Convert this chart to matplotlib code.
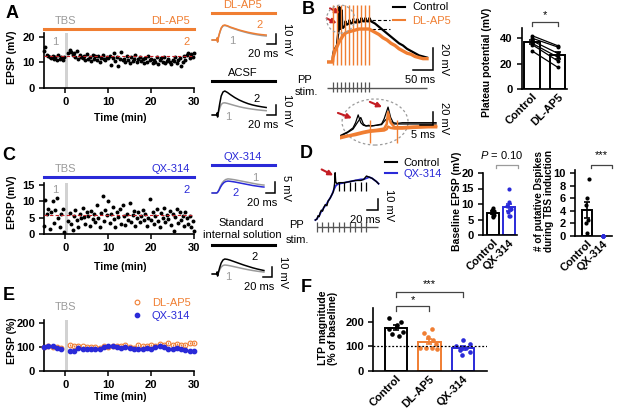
import numpy as np
import matplotlib
matplotlib.use('Agg')
import matplotlib.pyplot as plt
from matplotlib.patches import Ellipse
from matplotlib.lines import Line2D
from matplotlib.transforms import blended_transform_factory

plt.rcParams['font.family'] = ['Liberation Sans', 'DejaVu Sans']
plt.rcParams['mathtext.fontset'] = 'custom'
plt.rcParams['mathtext.it'] = 'Liberation Sans:italic'
plt.rcParams['mathtext.rm'] = 'Liberation Sans'

# ---------------- data ----------------
# A: EPSP amplitude (mV) of one DL-AP5 cell, one sweep every 20 s
a_base = [14.5, 16.0, 13.0, 12.5, 12.0, 11.8, 12.5, 11.5, 12.2, 11.0, 12.8, 11.5, 12.0, 10.8, 12.3]
a_post = [13.5, 15.0, 14.2, 12.8, 13.8, 12.0, 14.5, 11.5, 13.0, 12.2,
          11.8, 12.5, 10.8, 13.2, 11.5, 12.0, 10.5, 12.8, 11.2, 12.4,
          11.0, 12.6, 10.2, 11.8, 12.9, 11.3, 10.8, 12.2, 11.6, 12.5,
          9.0, 11.8, 13.5, 10.6, 12.0, 8.5, 11.2, 14.0, 10.8, 11.5,
          10.2, 12.4, 11.0, 9.8, 12.0, 10.5, 11.4, 13.0, 10.0, 11.2,
          12.2, 10.6, 11.5, 9.6, 11.8, 10.3, 12.5, 10.9, 11.3, 9.9,
          11.1, 10.0, 12.0, 9.4, 10.8, 11.6, 10.2, 12.2, 9.8, 10.7,
          11.4, 10.1, 9.3, 11.0, 10.5, 12.0, 9.6, 10.8, 11.7, 8.5,
          10.3, 12.4, 11.0, 12.8, 13.5, 11.6, 13.2, 12.0, 13.6]
# C: EPSP amplitude (mV) of one QX-314 cell
c_base = [2.5, 10.5, 6.0, 7.5, 1.5, 6.8, 10.2, 3.5, 7.2, 11.0, 5.0, 2.2, 6.2, 7.8, 0.5]
c_post = [4.0, 6.5, 3.2, 1.2, 5.5, 7.4, 4.2, 2.0, 6.0, 4.8,
          8.0, 5.2, 3.0, 6.8, 5.6, 2.5, 7.0, 4.5, 6.2, 3.8,
          9.0, 5.0, 2.2, 6.5, 11.5, 4.0, 7.2, 5.8, 10.2, 3.4,
          6.0, 8.2, 4.6, 2.0, 6.8, 5.2, 7.6, 3.2, 8.8, 5.6,
          2.8, 6.2, 4.4, 9.6, 3.6, 5.8, 7.0, 2.4, 4.8, 6.6,
          3.8, 5.4, 7.2, 4.2, 6.0, 2.6, 5.0, 10.8, 4.4, 6.8,
          3.0, 5.6, 7.6, 4.0, 2.2, 6.4, 5.0, 8.0, 3.6, 5.8,
          4.6, 7.0, 2.8, 6.2, 0.8, 5.2, 7.8, 3.4, 6.6, 4.2,
          5.6, 2.4, 6.8, 4.8, 3.2, 5.4, 2.0, 4.0, 1.0]
t_base = np.linspace(-5, -1 / 3, 15)
t_post = np.linspace(2 / 3, 30, 89)

# example EPSP traces (ms, mV): 1 = baseline, 2 = 30 min after TBS
ap5_t = [-10, 0, 1, 2, 4, 7, 10, 14, 18, 24, 30, 40, 50, 60, 70, 80, 90, 100, 110]
ap5_1 = [0, 0, 2, -2, 3, 7.5, 11.5, 14, 14.5, 13.8, 12.5, 11, 9.5, 8.2, 7, 6, 5.2, 4.5, 4]
ap5_2 = [0, 0, 2, -2, 3, 8, 12, 14.5, 15, 14.2, 13, 11.5, 10, 8.8, 7.7, 6.8, 6, 5.4, 5]
acsf_1 = [0, 0, 2, -2, 3, 7, 10.5, 12, 12.2, 11.6, 10.8, 9.5, 8.3, 7.3, 6.5, 5.8, 5.2, 4.7, 4.3]
acsf_2 = [0, 0, 2, -2, 4, 12, 19, 23, 24, 22.5, 20.5, 17.5, 15, 13, 11.3, 10, 9, 8.2, 7.5]
qx_t = [-10, 0, 2, 5, 8, 12, 16, 20, 25, 30, 40, 50, 60, 70, 80, 90, 100, 105]
qx_1 = [0, 0, 0.3, 1.4, 3.0, 4.5, 5.5, 6.1, 6.4, 6.3, 6.0, 5.6, 5.2, 4.8, 4.4, 4.0, 3.7, 3.6]
qx_2 = [0, 0, 0.3, 1.2, 2.5, 3.8, 4.7, 5.2, 5.4, 5.3, 5.0, 4.6, 4.2, 3.8, 3.4, 3.1, 2.8, 2.7]
std_t = [-10, 0, 1, 2, 4, 7, 10, 14, 18, 24, 30, 40, 50, 60, 70, 80, 90, 100, 105]
std_1 = [0, 0, 2, -2, 1.5, 4.5, 7, 8.5, 9, 8.7, 8.2, 7.2, 6.2, 5.2, 4.3, 3.5, 2.8, 2.2, 1.9]
std_2 = [0, 0, 2, -2, 2, 7, 11, 14, 15, 14.6, 13.8, 12.2, 10.6, 9, 7.6, 6.2, 5, 4, 3.5]

# B: TBS burst responses (ms, mV)
b_stim = [15, 25, 35, 45, 55, 65, 75, 85, 95, 105]
b_t = [0, 14, 15, 17, 20, 23, 25, 26, 28, 30, 31, 32, 34, 35, 36, 37, 38, 40, 45, 46,
       50, 55, 56, 60, 65, 66, 70, 75, 76, 80, 85, 86, 90, 95, 96, 100, 105, 106, 110, 120,
       130, 140, 150, 160, 170, 180, 190, 200, 210, 220, 230, 240, 250]
b_ctrl = [0, 0, 6, 10, 12, 14, 15, 20, 26, 30, 50, 35, 30, 32, 38, 47, 33, 31, 33, 37,
          34, 35, 38, 35, 36, 39, 36, 36, 39, 36, 37, 40, 37, 37, 40, 37, 37, 40, 37, 35,
          32, 29, 26, 23, 20, 17, 15, 12, 10, 8, 6, 5, 4]
b_ap5_t = [0, 14, 15, 18, 20, 25, 30, 35, 40, 45, 50, 60, 70, 80, 90, 100, 105, 110, 120,
           130, 140, 150, 160, 170, 180, 190, 200, 210, 220, 230, 240, 250]
b_ap5 = [0, 0, 4, 8, 10, 14, 18, 21, 24, 26, 27, 28, 29, 30, 30, 30, 30, 29, 27,
         25, 22, 20, 17, 15, 12, 10, 8, 7, 5, 4, 3, 3]
# B inset (ms, mV)
in_stim = [11.5, 22]
in_t_ctrl = [0, 1, 3, 5, 6, 7, 8, 9, 10, 11, 12, 14, 16, 17, 18.5, 19.5, 20.5, 22, 24, 27, 30, 34, 37]
in_ctrl_a = [2, 4, 8, 14, 22, 34, 22, 18, 17, 18, 17, 18, 20, 28, 46, 30, 22, 21, 22, 22, 22, 22, 22]
in_ctrl_b = [1, 3, 7, 12, 18, 24, 30, 20, 17, 17, 17, 18, 19, 24, 30, 24, 20, 20, 20, 20, 20, 20, 20]
in_t_ap5 = [0, 3, 6, 9, 11.5, 14, 17, 18, 18.5, 19.5, 21, 24, 28, 34, 37]
in_ap5_a = [0, 2, 5, 8, 10, 11, 13, 20, 38, 22, 15, 15, 16, 17, 17]
in_ap5_b = [-2, 1, 3, 6, 8, 9, 10, 12, 16, 14, 13, 13, 14, 15, 15]
# B: plateau potential (mV), paired
plateau_ctrl = [42, 40, 38, 36, 35, 30]
plateau_ap5 = [34, 33, 28, 25, 22, 17]

# D: TBS burst, control vs QX-314
d_stim = [0, 10, 20, 30, 40, 50, 60, 70, 80, 90]
d_t = [-3, 0, 2, 4, 6, 8, 10, 12, 15, 18, 20, 24, 28, 30, 32, 33, 34, 36, 40, 50,
       60, 70, 80, 85, 90, 95, 100, 108, 112]
d_ctrl = [0, 1, 4, 3, 7, 9, 8, 11, 14, 13, 17, 20, 24, 26, 33, 43, 35, 33, 34, 34,
          35, 36, 36, 37, 40, 39, 38, 35, 33]
d_qx = [0, 1, 3, 4, 6, 8, 9, 11, 13, 15, 17, 20, 24, 27, 29, 30, 31, 32, 33, 34,
        35, 36, 37, 37, 38, 39, 38, 35, 33]
base_epsp_ctrl = [8.8, 8.2, 7.8, 7.4, 7.0, 6.6, 6.2, 5.8]
base_epsp_qx = [14.8, 10.8, 9.4, 8.3, 7.5, 6.2, 6.0]
dspikes_ctrl = [9, 6, 5, 2.5, 2, 0.5]
dspikes_qx = [0, 0, 0, 0, 0, 0]

# E: normalised EPSP (%), 1-min bins
e_time = [-5, -4, -3, -2, -1] + list(range(1, 31))
e_ap5 = [100, 103, 100, 98, 97, 110, 105, 103, 102, 100, 98, 100, 97, 103, 100,
         105, 103, 105, 108, 100, 97, 108, 103, 105, 108, 105, 112, 110, 115, 108,
         112, 110, 108, 115, 115]
e_qx = [100, 104, 103, 95, 90, 85, 82, 95, 92, 93, 92, 90, 93, 100, 102,
        103, 100, 97, 98, 95, 93, 90, 92, 95, 93, 100, 103, 100, 92, 93,
        95, 90, 88, 85, 83]
e_ap5_sem = 4
e_qx_sem = 6

# F: LTP magnitude (% of baseline)
ltp_groups = ['Control', 'DL-AP5', 'QX-314']
ltp_ctrl = [218, 200, 188, 172, 160, 150, 142]
ltp_ap5 = [170, 155, 138, 125, 112, 95, 92, 95, 88]
ltp_qx = [125, 112, 100, 92, 85, 78, 66]

# ---------------- style ----------------
ORANGE = '#F07E32'
BLUE = '#2A2AD8'
GRAY = '#9B9B9B'
LIGHT = '#D2D2D2'
RED = '#C41E24'

W, H = 617, 409
fig = plt.figure(figsize=(6.17, 4.09), dpi=100)


def box(l, t, r, b):
    return [l / W, 1 - b / H, (r - l) / W, (b - t) / H]


def ftext(x, y, s, **kw):
    kw.setdefault('ha', 'center')
    kw.setdefault('va', 'center')
    kw.setdefault('fontsize', 8)
    fig.text(x / W, 1 - y / H, s, **kw)


def style(ax):
    ax.spines[['top', 'right']].set_visible(False)
    ax.spines[['left', 'bottom']].set_linewidth(1.2)
    ax.tick_params(width=1.1, length=3.5, labelsize=8, pad=3)
    for lab in ax.get_xticklabels() + ax.get_yticklabels():
        lab.set_fontweight('bold')


def trace_axes(l, t, r, b, xlim, ylim):
    ax = fig.add_axes(box(l, t, r, b))
    ax.set_xlim(*xlim)
    ax.set_ylim(*ylim)
    ax.axis('off')
    return ax


def scale_bar(ax, x, y, dx, dy, xlab, ylab):
    ax.plot([x - dx, x, x], [y, y, y + dy], color='k', lw=1.1, clip_on=False,
            solid_joinstyle='miter')
    ax.annotate(xlab, (x, y), xytext=(1.5, -3.5), textcoords='offset points',
                ha='right', va='top', fontsize=8)
    ax.annotate(ylab, (x, y + dy / 2), xytext=(4, 0), textcoords='offset points',
                ha='left', va='center', rotation=270, fontsize=8)


def red_arrow(ax, tail, head):
    ax.annotate('', xy=head, xytext=tail, annotation_clip=False,
                arrowprops=dict(arrowstyle='-|>', color=RED, lw=1.5,
                                mutation_scale=7, shrinkA=0, shrinkB=0))


def time_course(l, t, r, b, ylim, yticks, base, post, drug, col, ybar, ytxt, ynum):
    ax = fig.add_axes(box(l, t, r, b))
    ax.axvspan(-0.2, 0.6, color=LIGHT, lw=0, zorder=0)
    ax.scatter(np.r_[t_base, t_post], np.r_[base, post], s=8, color='k', lw=0,
               zorder=2, clip_on=False)
    ax.axhline(np.mean(base), color=RED, ls=(0, (3, 2)), lw=0.8, zorder=3)
    ax.set_xlim(-5, 30)
    ax.set_ylim(*ylim)
    ax.set_xticks([0, 10, 20, 30])
    ax.set_yticks(yticks)
    style(ax)
    fy = lambda y: (b - y) / (b - t)
    tr = blended_transform_factory(ax.transData, ax.transAxes)
    ax.plot([-5, 30], [fy(ybar)] * 2, color=col, lw=2.2, transform=tr, clip_on=False)
    ax.text(0, fy(ytxt), 'TBS', color=GRAY, transform=tr, ha='center', va='center', fontsize=8)
    ax.text(29, fy(ytxt), drug, color=col, transform=tr, ha='right', va='center', fontsize=8)
    ax.text(-2.4, fy(ynum), '1', color=GRAY, transform=tr, ha='center', va='center', fontsize=8)
    ax.text(28.3, fy(ynum), '2', color=col, transform=tr, ha='center', va='center', fontsize=8)
    return ax


def bar_axes(l, t, r, b, xlim, ylim, yticks, names):
    ax = fig.add_axes(box(l, t, r, b))
    ax.set_xlim(*xlim)
    ax.set_ylim(*ylim)
    ax.set_yticks(yticks)
    ax.set_xticks(range(len(names)), names, rotation=45, ha='right', va='top',
                  rotation_mode='anchor')
    style(ax)
    ax.tick_params(axis='x', length=0, pad=2)
    return ax


def bars(ax, groups, colors, width, jitters, s=9):
    for i, (vals, col, jit) in enumerate(zip(groups, colors, jitters)):
        vals = np.asarray(vals, float)
        m = vals.mean()
        se = vals.std(ddof=1) / np.sqrt(len(vals))
        if m > 0:
            ax.bar(i, m, width=width, facecolor='white', edgecolor=col, lw=1.4, zorder=1)
        ax.scatter(i + np.asarray(jit), vals, s=s, color=col, lw=0, zorder=3, clip_on=False)
        if se > 0:
            ax.errorbar(i, m, yerr=se, color=col, capsize=2.5, lw=1.2, capthick=1.2, zorder=4)


def bracket(ax, x0, x1, y, drop, ty, label, tx=None, color='#444444', fs=8):
    ax.plot([x0, x0, x1, x1], [y - drop, y, y, y - drop], color=color, lw=0.9, clip_on=False)
    ax.text((x0 + x1) / 2 if tx is None else tx, ty, label, ha='center', va='center',
            fontsize=fs, clip_on=False)


def ylabel(x, y, s, fs=7.5):
    ftext(x, y, s, rotation=90, fontweight='bold', fontsize=fs, linespacing=1.1)


# ---------------- A ----------------
ftext(12, 14, 'A', fontsize=13, fontweight='bold')
time_course(44, 33, 194, 88, (0, 21.5), [0, 10, 20], a_base, a_post, 'DL-AP5', ORANGE,
            29.3, 20.7, 41.7)
ylabel(12, 57, 'EPSP (mV)')
ftext(120, 118, 'Time (min)', fontweight='bold', fontsize=7.5)

ax = trace_axes(205, 0, 290, 50, (-26, 163), (-10, 40))
ax.plot(ap5_t, ap5_1, color=GRAY, lw=1.1)
ax.plot(ap5_t, ap5_2, color=ORANGE, lw=1.1)
ax.plot([-10, 130], [27, 27], color=ORANGE, lw=2.2, clip_on=False)
ax.text(58, 35.5, 'DL-AP5', color=ORANGE, ha='center', va='center', fontsize=8, clip_on=False)
ax.text(96, 15, '2', color=ORANGE, ha='center', va='center', fontsize=8)
ax.text(34, -1, '1', color=GRAY, ha='center', va='center', fontsize=8)
scale_bar(ax, 132, -4, 20, 10, '20 ms', '10 mV')

ax = trace_axes(205, 60, 290, 130, (-26, 163), (-15, 55))
ax.plot(ap5_t, acsf_1, color=GRAY, lw=1.1)
ax.plot(ap5_t, acsf_2, color='k', lw=1.1)
ax.plot([-10, 130], [34, 34], color='k', lw=2.2, clip_on=False)
ax.text(58, 41.5, 'ACSF', ha='center', va='center', fontsize=8)
ax.text(89, 15.7, '2', ha='center', va='center', fontsize=8)
ax.text(26, -1.7, '1', color=GRAY, ha='center', va='center', fontsize=8)
scale_bar(ax, 132, 0, 20, 10, '20 ms', '10 mV')

# ---------------- B ----------------
ftext(308, 9, 'B', fontsize=13, fontweight='bold')
ax = trace_axes(327, 0, 437, 70, (0, 275), (-7.3, 56.4))
ax.plot(b_t, b_ctrl, color='k', lw=1.6, zorder=2)
ax.plot(b_ap5_t, b_ap5, color=ORANGE, lw=2.4, zorder=3)
ax.vlines(b_stim, -3, 52, color=ORANGE, lw=1, zorder=4, clip_on=False)
ax.hlines([38, 30], 112, 157, colors='k', linestyles=(0, (3, 2)), lw=0.8)
ax.add_patch(Ellipse((34, 39), 70, 25.5, fill=False, ec=GRAY, ls=(0, (2, 2)), lw=0.9,
                     clip_on=False, zorder=5))
red_arrow(ax, (7.5, 48.8), (32.5, 44.3))
red_arrow(ax, (-0.8, 39.7), (24.2, 35.2))
ax.hlines(-23.4, 0, 250, color='#555555', lw=1, clip_on=False)
ax.vlines(b_stim, -18, -27.3, color='#555555', lw=0.9, clip_on=False)
scale_bar(ax, 265, -7.3, 50, 20, '50 ms', '20 mV')
ax.legend([Line2D([], [], color='k', lw=1.5), Line2D([], [], color=ORANGE, lw=1.5)],
          ['Control', 'DL-AP5'], loc='upper left', bbox_to_anchor=(393 / W, 1 - 2.5 / H),
          bbox_transform=fig.transFigure, frameon=False, fontsize=8, handlelength=1.1,
          handletextpad=0.6, labelspacing=0.3, borderpad=0, borderaxespad=0,
          labelcolor=['k', ORANGE])
ftext(305, 80, 'PP')
ftext(306, 92, 'stim.')

ax = trace_axes(340, 95, 440, 147, (0, 38.5), (-15.4, 64.6))
ax.add_patch(Ellipse((13.5, 23), 25.4, 70.8, fill=False, ec=GRAY, ls=(0, (2, 2)), lw=0.9,
                     clip_on=False))
ax.plot(in_t_ctrl, in_ctrl_b, color='k', lw=0.9)
ax.plot(in_t_ctrl, in_ctrl_a, color='k', lw=0.9)
ax.plot(in_t_ap5, in_ap5_b, color=ORANGE, lw=1.8)
ax.plot(in_t_ap5, in_ap5_a, color=ORANGE, lw=1.8)
ax.vlines(in_stim, -9, 26, color=ORANGE, lw=1)
red_arrow(ax, (-0.8, 37), (4.6, 29))
red_arrow(ax, (11.5, 54), (16.2, 46))
scale_bar(ax, 35.8, 18.5, 5, 20, '5 ms', '20 mV')

ax = bar_axes(521.6, 28, 567, 89, (-0.4, 1.35), (0, 48), [0, 20, 40], ['Control', 'DL-AP5'])
for c, d in zip(plateau_ctrl, plateau_ap5):
    ax.plot([0, 1], [c, d], color='k', lw=0.9, zorder=2)
bars(ax, [plateau_ctrl, plateau_ap5], ['k', 'k'], 0.58, [[0] * 6, [0] * 6], s=8)
bracket(ax, 0, 1, 52.8, 3, 58, '*')
ylabel(486.7, 62.5, 'Plateau potential (mV)')

# ---------------- C ----------------
ftext(9, 156, 'C', fontsize=13, fontweight='bold')
time_course(44, 183, 194, 234, (0, 15.6), [0, 5, 10, 15], c_base, c_post, 'QX-314', BLUE,
            176.7, 169.3, 190)
ylabel(12, 202, 'EPSP (mV)')
ftext(120, 267, 'Time (min)', fontweight='bold', fontsize=7.5)

ax = trace_axes(205, 150, 290, 200, (-26, 163), (-3.18, 19.5))
ax.plot(qx_t, qx_1, color=GRAY, lw=1.1)
ax.plot(qx_t, qx_2, color=BLUE, lw=1.1)
ax.plot([-10, 130], [12.7, 12.7], color=BLUE, lw=2.2, clip_on=False)
ax.text(58, 16.5, 'QX-314', color=BLUE, ha='center', va='center', fontsize=8)
ax.text(85, 6.8, '1', color=GRAY, ha='center', va='center', fontsize=8)
ax.text(41, 0, '2', color=BLUE, ha='center', va='center', fontsize=8)
scale_bar(ax, 130, 0, 20, 5, '20 ms', '5 mV')

ftext(241, 223, 'Standard')
ftext(242, 235, 'internal solution')
ax = trace_axes(205, 240, 290, 290, (-26, 163), (-16, 34))
ax.plot(std_t, std_1, color=GRAY, lw=1.1)
ax.plot(std_t, std_2, color='k', lw=1.1)
ax.plot([-10, 130], [29, 29], color='k', lw=2.2, clip_on=False)
ax.text(84, 17, '2', ha='center', va='center', fontsize=8)
ax.text(25, -3, '1', color=GRAY, ha='center', va='center', fontsize=8)
scale_bar(ax, 124, -3, 20, 10, '20 ms', '10 mV')

# ---------------- D ----------------
ftext(306, 153, 'D', fontsize=13, fontweight='bold')
ax = trace_axes(310, 158, 392, 236, (-12.7, 136.4), (-14.5, 56.4))
ax.plot(d_t, d_qx, color=BLUE, lw=1.3)
ax.plot(d_t, d_ctrl, color='k', lw=1.0)
ax.vlines(d_stim[4:], 26, 35, color='k', lw=0.9)
ax.hlines(-6.4, 0, 111, color='#555555', lw=1, clip_on=False)
ax.vlines(d_stim, -1.8, -10.9, color='#555555', lw=0.9, clip_on=False)
red_arrow(ax, (8.5, 46), (29.6, 40.6))
scale_bar(ax, 111, 9, 20, 10, '20 ms', '10 mV')
ax.legend([Line2D([], [], color='k', lw=1.5), Line2D([], [], color=BLUE, lw=1.5)],
          ['Control', 'QX-314'], loc='upper left', bbox_to_anchor=(385 / W, 1 - 157.5 / H),
          bbox_transform=fig.transFigure, frameon=False, fontsize=8, handlelength=1.1,
          handletextpad=0.55, labelspacing=0.15, borderpad=0, borderaxespad=0,
          labelcolor=['k', BLUE])
ftext(296, 225, 'PP')
ftext(297, 240, 'stim.')

ax = bar_axes(483, 173, 517, 235, (-0.63, 1.5), (0, 20), [0, 5, 10, 15, 20], ['Control', 'QX-314'])
bars(ax, [base_epsp_ctrl, base_epsp_qx], ['k', BLUE], 0.7,
     [[0, -0.05, 0.05, 0, -0.05, 0.05, 0, 0], [0, 0.03, -0.12, 0.1, -0.05, 0.08, -0.03]])
bracket(ax, 0.2, 1.55, 22.6, 1, 25.8, r'$\it{P}$ = 0.10', tx=0.56, color=GRAY)
ylabel(456.7, 201, 'Baseline EPSP (mV)')

ax = bar_axes(575, 170.5, 612, 236, (-0.75, 1.56), (0, 10.4), [0, 2, 4, 6, 8, 10], ['Control', 'QX-314'])
bars(ax, [dspikes_ctrl, dspikes_qx], ['k', BLUE], 0.65,
     [[0.1, 0.0, -0.05, 0.05, -0.05, 0.02], [0] * 6])
bracket(ax, 0.25, 1.55, 11.3, 0.5, 12.9, '***', tx=0.9)
ylabel(544, 201, '# of putative Dspikes\nduring TBS induction', fs=7.2)

# ---------------- E ----------------
ftext(9, 295, 'E', fontsize=13, fontweight='bold')
ax = fig.add_axes(box(44, 320, 194, 371))
ax.axvspan(-0.2, 0.6, color=LIGHT, lw=0, zorder=0)
ax.errorbar(e_time, e_ap5, yerr=e_ap5_sem, fmt='o', mfc='none', mec=ORANGE, ecolor=ORANGE,
            ms=3.4, mew=0.8, elinewidth=0.8, capsize=0, clip_on=False, zorder=2)
ax.errorbar(e_time, e_qx, yerr=e_qx_sem, fmt='o', color=BLUE, ms=3.1, elinewidth=0.8,
            capsize=0, clip_on=False, zorder=3)
ax.set_xlim(-5, 30)
ax.set_ylim(0, 212)
ax.set_xticks([0, 10, 20, 30])
ax.set_yticks([0, 100, 200])
style(ax)
tr = blended_transform_factory(ax.transData, ax.transAxes)
ax.text(0, 1.26, 'TBS', color=GRAY, transform=tr, ha='center', va='center', fontsize=8)
ax.legend([Line2D([], [], ls='none', marker='o', mfc='none', mec=ORANGE, ms=3.4, mew=0.8),
           Line2D([], [], ls='none', marker='o', color=BLUE, ms=3.1)],
          ['DL-AP5', 'QX-314'], loc='upper left', bbox_to_anchor=(131.7 / W, 1 - 298 / H),
          bbox_transform=fig.transFigure, frameon=False, fontsize=8, handlelength=0.9,
          handletextpad=0.9, labelspacing=0.3, borderpad=0, borderaxespad=0,
          labelcolor=[ORANGE, BLUE])
ylabel(12, 341, 'EPSP (%)')
ftext(120, 397, 'Time (min)', fontweight='bold', fontsize=7.5)

# ---------------- F ----------------
ftext(306, 288, 'F', fontsize=13, fontweight='bold')
ax = bar_axes(373, 308, 487, 371, (-0.69, 2.72), (0, 257), [0, 100, 200], ltp_groups)
ax.axhline(100, color='k', ls=(0, (1.5, 1.5)), lw=0.9, zorder=5)
bars(ax, [ltp_ctrl, ltp_ap5, ltp_qx], ['k', ORANGE, BLUE], 0.66,
     [[-0.2, 0.15, 0.02, -0.22, 0.2, -0.12, 0.08],
      [0.07, -0.15, -0.05, 0.1, 0.2, -0.28, -0.1, 0.07, 0.22],
      [0.0, 0.2, -0.2, 0.1, -0.08, 0.2, -0.02]], s=11)
bracket(ax, 0, 1, 265, 19, 290, '*')
bracket(ax, 0, 2, 323, 21, 355, '***')
ylabel(328, 328, 'LTP magnitude\n(% of baseline)')

fig.savefig('out.png', dpi=100)
